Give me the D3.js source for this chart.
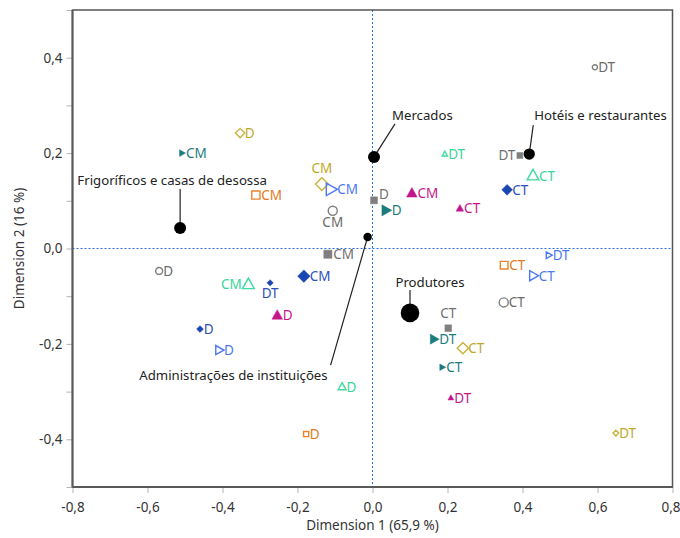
<!DOCTYPE html>
<html><head><meta charset="utf-8">
<script src="https://cdn.jsdelivr.net/npm/d3@7"></script>
<style>body{margin:0;background:#fff} text{font-family:"Noto Sans",sans-serif}</style>
</head><body><svg id="c" width="680" height="538"></svg>
<script>
// ---- data ----
const xTicks = [-0.8,-0.6,-0.4,-0.2,0,0.2,0.4,0.6,0.8];
const yTicks = [-0.4,-0.2,0,0.2,0.4];
const yMinor = [-0.5,-0.3,-0.1,0.1,0.3,0.5];
const xTitle = "Dimension 1  (65,9 %)";
const yTitle = "Dimension 2  (16 %)";

// column points: [label, dim1, dim2, weight]
const grayCircle   = [["CM",-0.106,0.079,3.2],["D",-0.569,-0.047,1.9],["DT",0.593,0.380,1.0],["CT",0.350,-0.113,3.2]];
const tealTri      = [["CM",-0.508,0.200,1.6],["D",0.036,0.080,4.4],["DT",0.164,-0.190,3.6],["CT",0.186,-0.249,1.6]];
const goldDiamond  = [["CM",-0.135,0.135,4.8],["D",-0.353,0.242,2.6],["DT",0.649,-0.387,1.0],["CT",0.241,-0.209,3.8]];
const orangeSquare = [["CM",-0.311,0.112,3.6],["D",-0.177,-0.389,1.4],["CT",0.351,-0.035,3.2]];
const blueTri      = [["CM",-0.111,0.124,5.5],["D",-0.409,-0.213,3.0],["DT",0.470,-0.014,1.6],["CT",0.429,-0.057,3.6]];
const graySquare   = [["CM",-0.119,-0.012,3.6],["D",0.004,0.101,2.6],["DT",0.393,0.195,1.9],["CT",0.202,-0.167,2.4]];
const mintTri      = [["CM",-0.331,-0.075,5.0],["D",-0.081,-0.290,2.2],["DT",0.193,0.198,1.0],["CT",0.428,0.153,5.0]];
const magentaTri   = [["CM",0.105,0.116,4.0],["D",-0.254,-0.140,4.0],["DT",0.209,-0.313,1.2],["CT",0.233,0.084,2.0]];
const navyDiamond  = [["CM",-0.183,-0.058,4.6],["D",-0.460,-0.169,1.4],["DT",-0.273,-0.072,1.2],["CT",0.359,0.123,3.4]];

// row points: [name, dim1, dim2, weight]
const rows = [["Frigoríficos e casas de desossa",-0.513,0.043,5.6],["Mercados",0.004,0.192,5.6],["Hotéis e restaurantes",0.418,0.198,5.0],["Administrações de instituições",-0.013,0.024,2.8],["Produtores",0.100,-0.135,13.5]];

// ---- styles ----
const seriesStyle = [
  {d:grayCircle,  shape:"circle", fill:false, color:"#7f7f7f", text:"#6a6a6a"},
  {d:tealTri,     shape:"right",  fill:true,  color:"#1c7c7c", text:"#1c7c7c"},
  {d:goldDiamond, shape:"diamond",fill:false, color:"#c8b43c", text:"#c0a828"},
  {d:orangeSquare,shape:"square", fill:false, color:"#e8822c", text:"#e07820"},
  {d:blueTri,     shape:"right",  fill:false, color:"#4c78f4", text:"#4c78f4"},
  {d:graySquare,  shape:"square", fill:true,  color:"#7f7f7f", text:"#707070"},
  {d:mintTri,     shape:"up",     fill:false, color:"#3edca0", text:"#38d49a"},
  {d:magentaTri,  shape:"up",     fill:true,  color:"#c4168c", text:"#c4168c"},
  {d:navyDiamond, shape:"diamond",fill:true,  color:"#1a46b0", text:"#2a50b8"}
];
// label placement overrides: "seriesIndex-label" -> mode
const labelMode = {"2-CM":"above","0-CM":"below","6-CM":"left","8-DT":"below","5-DT":"left","5-CT":"above","5-D":"aboveRight"};
const rowLabel = [
  {dx:-8, dy:-48, anchor:"middle", lx:0, ly:-39},
  {dx:18, dy:-42, anchor:"start", lx:21, ly:-33},
  {dx:5,  dy:-39, anchor:"start", lx:4, ly:-29},
  {dx:-40,dy:138, anchor:"end", lx:-37, ly:128},
  {dx:20, dy:-31, anchor:"middle", lx:0, ly:-23}
];

const svg = d3.select("#c");
const L=72.5, R=672.5, T=10, B=487;
const x = d3.scaleLinear().domain([-0.8,0.8]).range([L,R]);
const y = d3.scaleLinear().domain([-0.5,0.5]).range([B,T]);
const rs = d3.scaleSqrt().domain([0,10]).range([0,8]);
const fmt = v => d3.format(".1f")(v).replace(".",",").replace("−","-");

// zero lines
svg.append("line").attr("x1",x(0)).attr("x2",x(0)).attr("y1",T).attr("y2",B)
  .attr("stroke","#2a6be8").attr("stroke-width",1).attr("stroke-dasharray","2,2");
svg.append("line").attr("x1",L).attr("x2",R).attr("y1",y(0)).attr("y2",y(0))
  .attr("stroke","#2a6be8").attr("stroke-width",1).attr("stroke-dasharray","2,2");

// axes
const xAxis = svg.append("g").attr("transform",`translate(0,${B})`)
  .call(d3.axisBottom(x).tickValues(xTicks).tickSize(6).tickPadding(9).tickFormat(fmt));
const yAxis = svg.append("g").attr("transform",`translate(${L},0)`)
  .call(d3.axisLeft(y).tickValues(yTicks).tickSize(6).tickPadding(4).tickFormat(fmt));
const yAxisMinor = svg.append("g").attr("transform",`translate(${L},0)`)
  .call(d3.axisLeft(y).tickValues(yMinor).tickSize(6).tickFormat(""));
[xAxis,yAxis,yAxisMinor].forEach(g=>{
  g.select(".domain").remove();
  g.selectAll(".tick line").attr("stroke","#b4b4b4");
  g.selectAll("text").attr("fill","#333").style("font-size","13.5px").style("font-family","'Noto Sans',sans-serif");
});
// keep last x label inside the page
xAxis.selectAll(".tick").filter(d=>d===0.8).select("text").attr("text-anchor","end").attr("x",7.5);
// frame
svg.append("rect").attr("x",L).attr("y",T).attr("width",R-L).attr("height",B-T)
  .attr("fill","none").attr("stroke","#555").attr("stroke-width",1.5);
svg.append("line").attr("x1",L).attr("x2",L).attr("y1",T).attr("y2",B).attr("stroke","#5a5a5a").attr("stroke-width",2);
svg.append("line").attr("x1",L).attr("x2",R).attr("y1",B).attr("y2",B).attr("stroke","#5a5a5a").attr("stroke-width",2);

// titles
svg.append("text").attr("x",(L+R)/2).attr("y",530).attr("text-anchor","middle")
  .attr("fill","#333").style("font-size","13.5px").text(xTitle);
svg.append("text").attr("transform",`translate(24,${y(0)}) rotate(-90)`).attr("text-anchor","middle")
  .attr("fill","#333").style("font-size","13.5px").text(yTitle);

function shapePath(shape,r){
  if(shape==="circle") return d3.symbol(d3.symbolCircle, Math.PI*r*r)();
  if(shape==="square"){const h=r*0.85;return `M${-h},${-h}H${h}V${h}H${-h}Z`;}
  if(shape==="diamond"){const h=r*1.15;return `M0,${-h}L${h},0L0,${h}L${-h},0Z`;}
  const h=r*1.1;
  if(shape==="up") return `M0,${-h}L${h*0.95},${h*0.7}L${-h*0.95},${h*0.7}Z`;
  return `M${h},0L${-h*0.7},${h*0.95}L${-h*0.7},${-h*0.95}Z`; // right
}

const gPts = svg.append("g");
seriesStyle.forEach((s,si)=>{
  const g = gPts.append("g");
  g.selectAll("path").data(s.d).join("path")
    .attr("transform",d=>`translate(${x(d[1])},${y(d[2])})`)
    .attr("d",d=>shapePath(s.shape, rs(d[3])))
    .attr("fill",s.fill? s.color : "none")
    .attr("stroke",s.color).attr("stroke-width",s.fill?0.5:1.4);
  g.selectAll("text").data(s.d).join("text")
    .each(function(d){
      const r = rs(d[3]);
      const mode = labelMode[si+"-"+d[0]] || "right";
      const px=x(d[1]), py=y(d[2]);
      const t=d3.select(this).attr("fill",s.text).style("font-size","13.5px").text(d[0]);
      if(mode==="right") t.attr("x",px+r*0.9+1).attr("y",py+5);
      else if(mode==="left") t.attr("x",px-r-1).attr("y",py+5).attr("text-anchor","end");
      else if(mode==="above") t.attr("x",px).attr("y",py-r-6).attr("text-anchor","middle");
      else if(mode==="below") t.attr("x",px).attr("y",py+r+12).attr("text-anchor","middle");
      else if(mode==="aboveRight") t.attr("x",px+5).attr("y",py-1);
    });
});

// rows
const gRows = svg.append("g");
rows.forEach((d,i)=>{
  const px=x(d[1]), py=y(d[2]), o=rowLabel[i];
  gRows.append("line").attr("x1",px+o.lx).attr("y1",py+o.ly).attr("x2",px).attr("y2",py)
    .attr("stroke","#222").attr("stroke-width",1.2);
  gRows.append("circle").attr("cx",px).attr("cy",py).attr("r",rs(d[3])).attr("fill","#000");
  gRows.append("text").attr("x",px+o.dx).attr("y",py+o.dy+5).attr("text-anchor",o.anchor)
    .attr("fill","#222").style("font-size","13.2px").text(d[0]);
});
</script></body></html>
